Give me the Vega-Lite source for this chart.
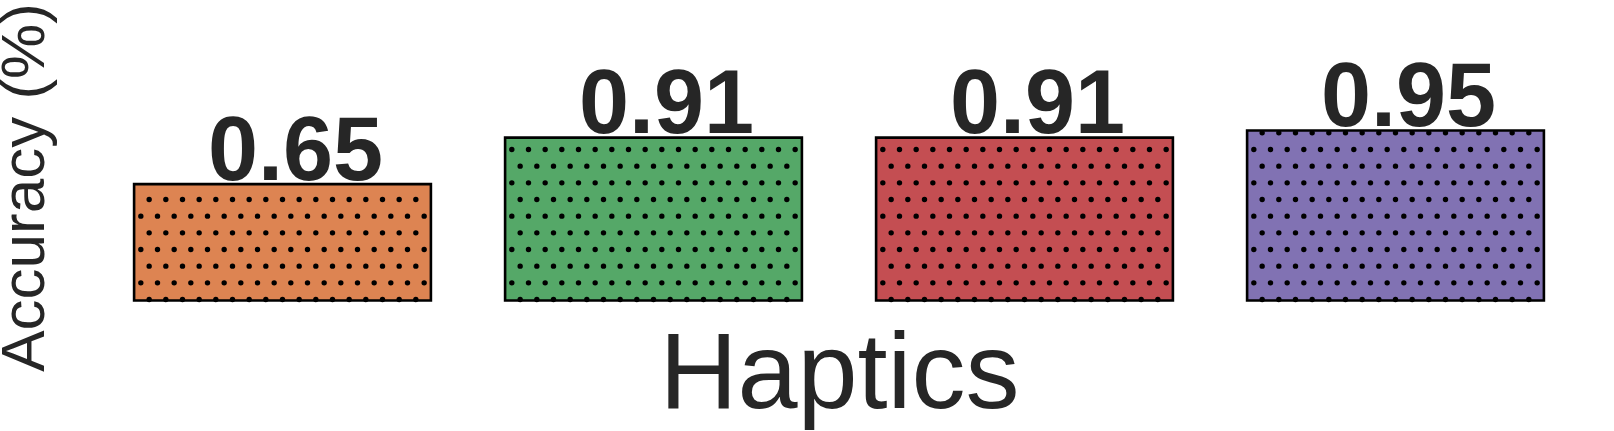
{
  "$schema": "https://vega.github.io/schema/vega-lite/v6.json",
  "autosize": {"type": "none"},
  "padding": {"left": 97, "top": 73.5, "right": 33, "bottom": 130.5},
  "width": 1484,
  "height": 227,
  "background": "white",
  "config": {"view": {"stroke": null}},
  "data": {"values": [
    {"cond": "Condition 1", "value": 0.65},
    {"cond": "Condition 2", "value": 0.91},
    {"cond": "Condition 3", "value": 0.91},
    {"cond": "Condition 4", "value": 0.95}
  ]},
  "encoding": {
    "x": {"field": "cond", "type": "nominal", "sort": null,
      "scale": {"paddingInner": 0.2, "paddingOuter": 0.1},
      "axis": {"title": "Haptics", "labels": false, "ticks": false, "domain": false, "grid": false,
        "titleFont": "Liberation Sans", "titleFontSize": 108, "titleFontWeight": "normal",
        "titleColor": "#262626", "titleBaseline": "alphabetic", "titlePadding": 107}},
    "y": {"field": "value", "type": "quantitative",
      "scale": {"domain": [0, 1.268], "nice": false, "zero": true},
      "axis": {"title": "Accuracy (%)", "labels": false, "ticks": false, "domain": false, "grid": false,
        "titleFont": "Liberation Sans", "titleFontSize": 62, "titleFontWeight": "normal",
        "titleColor": "#262626", "titleBaseline": "alphabetic", "titlePadding": 54}}
  },
  "layer": [
    {"mark": {"type": "bar", "strokeWidth": 0},
     "encoding": {"color": {"field": "cond", "type": "nominal", "legend": null,
       "scale": {"range": ["#DD8452", "#55A868", "#C44E52", "#8172B3"]}}}},
    {"mark": {"type": "rule", "xOffset": -141.667, "strokeWidth": 5.4, "strokeCap": "round", "strokeDash": [0, 33.333], "strokeDashOffset": 15.67, "color": "black"}, "encoding": {"y": {"datum": 0, "type": "quantitative"}, "y2": {"field": "value"}}},
    {"mark": {"type": "rule", "xOffset": -133.333, "strokeWidth": 5.4, "strokeCap": "round", "strokeDash": [0, 33.333], "strokeDashOffset": 32.33, "color": "black"}, "encoding": {"y": {"datum": 0, "type": "quantitative"}, "y2": {"field": "value"}}},
    {"mark": {"type": "rule", "xOffset": -125, "strokeWidth": 5.4, "strokeCap": "round", "strokeDash": [0, 33.333], "strokeDashOffset": 15.67, "color": "black"}, "encoding": {"y": {"datum": 0, "type": "quantitative"}, "y2": {"field": "value"}}},
    {"mark": {"type": "rule", "xOffset": -116.667, "strokeWidth": 5.4, "strokeCap": "round", "strokeDash": [0, 33.333], "strokeDashOffset": 32.33, "color": "black"}, "encoding": {"y": {"datum": 0, "type": "quantitative"}, "y2": {"field": "value"}}},
    {"mark": {"type": "rule", "xOffset": -108.333, "strokeWidth": 5.4, "strokeCap": "round", "strokeDash": [0, 33.333], "strokeDashOffset": 15.67, "color": "black"}, "encoding": {"y": {"datum": 0, "type": "quantitative"}, "y2": {"field": "value"}}},
    {"mark": {"type": "rule", "xOffset": -100, "strokeWidth": 5.4, "strokeCap": "round", "strokeDash": [0, 33.333], "strokeDashOffset": 32.33, "color": "black"}, "encoding": {"y": {"datum": 0, "type": "quantitative"}, "y2": {"field": "value"}}},
    {"mark": {"type": "rule", "xOffset": -91.667, "strokeWidth": 5.4, "strokeCap": "round", "strokeDash": [0, 33.333], "strokeDashOffset": 15.67, "color": "black"}, "encoding": {"y": {"datum": 0, "type": "quantitative"}, "y2": {"field": "value"}}},
    {"mark": {"type": "rule", "xOffset": -83.333, "strokeWidth": 5.4, "strokeCap": "round", "strokeDash": [0, 33.333], "strokeDashOffset": 32.33, "color": "black"}, "encoding": {"y": {"datum": 0, "type": "quantitative"}, "y2": {"field": "value"}}},
    {"mark": {"type": "rule", "xOffset": -75, "strokeWidth": 5.4, "strokeCap": "round", "strokeDash": [0, 33.333], "strokeDashOffset": 15.67, "color": "black"}, "encoding": {"y": {"datum": 0, "type": "quantitative"}, "y2": {"field": "value"}}},
    {"mark": {"type": "rule", "xOffset": -66.667, "strokeWidth": 5.4, "strokeCap": "round", "strokeDash": [0, 33.333], "strokeDashOffset": 32.33, "color": "black"}, "encoding": {"y": {"datum": 0, "type": "quantitative"}, "y2": {"field": "value"}}},
    {"mark": {"type": "rule", "xOffset": -58.333, "strokeWidth": 5.4, "strokeCap": "round", "strokeDash": [0, 33.333], "strokeDashOffset": 15.67, "color": "black"}, "encoding": {"y": {"datum": 0, "type": "quantitative"}, "y2": {"field": "value"}}},
    {"mark": {"type": "rule", "xOffset": -50, "strokeWidth": 5.4, "strokeCap": "round", "strokeDash": [0, 33.333], "strokeDashOffset": 32.33, "color": "black"}, "encoding": {"y": {"datum": 0, "type": "quantitative"}, "y2": {"field": "value"}}},
    {"mark": {"type": "rule", "xOffset": -41.667, "strokeWidth": 5.4, "strokeCap": "round", "strokeDash": [0, 33.333], "strokeDashOffset": 15.67, "color": "black"}, "encoding": {"y": {"datum": 0, "type": "quantitative"}, "y2": {"field": "value"}}},
    {"mark": {"type": "rule", "xOffset": -33.333, "strokeWidth": 5.4, "strokeCap": "round", "strokeDash": [0, 33.333], "strokeDashOffset": 32.33, "color": "black"}, "encoding": {"y": {"datum": 0, "type": "quantitative"}, "y2": {"field": "value"}}},
    {"mark": {"type": "rule", "xOffset": -25, "strokeWidth": 5.4, "strokeCap": "round", "strokeDash": [0, 33.333], "strokeDashOffset": 15.67, "color": "black"}, "encoding": {"y": {"datum": 0, "type": "quantitative"}, "y2": {"field": "value"}}},
    {"mark": {"type": "rule", "xOffset": -16.667, "strokeWidth": 5.4, "strokeCap": "round", "strokeDash": [0, 33.333], "strokeDashOffset": 32.33, "color": "black"}, "encoding": {"y": {"datum": 0, "type": "quantitative"}, "y2": {"field": "value"}}},
    {"mark": {"type": "rule", "xOffset": -8.333, "strokeWidth": 5.4, "strokeCap": "round", "strokeDash": [0, 33.333], "strokeDashOffset": 15.67, "color": "black"}, "encoding": {"y": {"datum": 0, "type": "quantitative"}, "y2": {"field": "value"}}},
    {"mark": {"type": "rule", "xOffset": 0, "strokeWidth": 5.4, "strokeCap": "round", "strokeDash": [0, 33.333], "strokeDashOffset": 32.33, "color": "black"}, "encoding": {"y": {"datum": 0, "type": "quantitative"}, "y2": {"field": "value"}}},
    {"mark": {"type": "rule", "xOffset": 8.333, "strokeWidth": 5.4, "strokeCap": "round", "strokeDash": [0, 33.333], "strokeDashOffset": 15.67, "color": "black"}, "encoding": {"y": {"datum": 0, "type": "quantitative"}, "y2": {"field": "value"}}},
    {"mark": {"type": "rule", "xOffset": 16.667, "strokeWidth": 5.4, "strokeCap": "round", "strokeDash": [0, 33.333], "strokeDashOffset": 32.33, "color": "black"}, "encoding": {"y": {"datum": 0, "type": "quantitative"}, "y2": {"field": "value"}}},
    {"mark": {"type": "rule", "xOffset": 25, "strokeWidth": 5.4, "strokeCap": "round", "strokeDash": [0, 33.333], "strokeDashOffset": 15.67, "color": "black"}, "encoding": {"y": {"datum": 0, "type": "quantitative"}, "y2": {"field": "value"}}},
    {"mark": {"type": "rule", "xOffset": 33.333, "strokeWidth": 5.4, "strokeCap": "round", "strokeDash": [0, 33.333], "strokeDashOffset": 32.33, "color": "black"}, "encoding": {"y": {"datum": 0, "type": "quantitative"}, "y2": {"field": "value"}}},
    {"mark": {"type": "rule", "xOffset": 41.667, "strokeWidth": 5.4, "strokeCap": "round", "strokeDash": [0, 33.333], "strokeDashOffset": 15.67, "color": "black"}, "encoding": {"y": {"datum": 0, "type": "quantitative"}, "y2": {"field": "value"}}},
    {"mark": {"type": "rule", "xOffset": 50, "strokeWidth": 5.4, "strokeCap": "round", "strokeDash": [0, 33.333], "strokeDashOffset": 32.33, "color": "black"}, "encoding": {"y": {"datum": 0, "type": "quantitative"}, "y2": {"field": "value"}}},
    {"mark": {"type": "rule", "xOffset": 58.333, "strokeWidth": 5.4, "strokeCap": "round", "strokeDash": [0, 33.333], "strokeDashOffset": 15.67, "color": "black"}, "encoding": {"y": {"datum": 0, "type": "quantitative"}, "y2": {"field": "value"}}},
    {"mark": {"type": "rule", "xOffset": 66.667, "strokeWidth": 5.4, "strokeCap": "round", "strokeDash": [0, 33.333], "strokeDashOffset": 32.33, "color": "black"}, "encoding": {"y": {"datum": 0, "type": "quantitative"}, "y2": {"field": "value"}}},
    {"mark": {"type": "rule", "xOffset": 75, "strokeWidth": 5.4, "strokeCap": "round", "strokeDash": [0, 33.333], "strokeDashOffset": 15.67, "color": "black"}, "encoding": {"y": {"datum": 0, "type": "quantitative"}, "y2": {"field": "value"}}},
    {"mark": {"type": "rule", "xOffset": 83.333, "strokeWidth": 5.4, "strokeCap": "round", "strokeDash": [0, 33.333], "strokeDashOffset": 32.33, "color": "black"}, "encoding": {"y": {"datum": 0, "type": "quantitative"}, "y2": {"field": "value"}}},
    {"mark": {"type": "rule", "xOffset": 91.667, "strokeWidth": 5.4, "strokeCap": "round", "strokeDash": [0, 33.333], "strokeDashOffset": 15.67, "color": "black"}, "encoding": {"y": {"datum": 0, "type": "quantitative"}, "y2": {"field": "value"}}},
    {"mark": {"type": "rule", "xOffset": 100, "strokeWidth": 5.4, "strokeCap": "round", "strokeDash": [0, 33.333], "strokeDashOffset": 32.33, "color": "black"}, "encoding": {"y": {"datum": 0, "type": "quantitative"}, "y2": {"field": "value"}}},
    {"mark": {"type": "rule", "xOffset": 108.333, "strokeWidth": 5.4, "strokeCap": "round", "strokeDash": [0, 33.333], "strokeDashOffset": 15.67, "color": "black"}, "encoding": {"y": {"datum": 0, "type": "quantitative"}, "y2": {"field": "value"}}},
    {"mark": {"type": "rule", "xOffset": 116.667, "strokeWidth": 5.4, "strokeCap": "round", "strokeDash": [0, 33.333], "strokeDashOffset": 32.33, "color": "black"}, "encoding": {"y": {"datum": 0, "type": "quantitative"}, "y2": {"field": "value"}}},
    {"mark": {"type": "rule", "xOffset": 125, "strokeWidth": 5.4, "strokeCap": "round", "strokeDash": [0, 33.333], "strokeDashOffset": 15.67, "color": "black"}, "encoding": {"y": {"datum": 0, "type": "quantitative"}, "y2": {"field": "value"}}},
    {"mark": {"type": "rule", "xOffset": 133.333, "strokeWidth": 5.4, "strokeCap": "round", "strokeDash": [0, 33.333], "strokeDashOffset": 32.33, "color": "black"}, "encoding": {"y": {"datum": 0, "type": "quantitative"}, "y2": {"field": "value"}}},
    {"mark": {"type": "rule", "xOffset": 141.667, "strokeWidth": 5.4, "strokeCap": "round", "strokeDash": [0, 33.333], "strokeDashOffset": 15.67, "color": "black"}, "encoding": {"y": {"datum": 0, "type": "quantitative"}, "y2": {"field": "value"}}},
    {"mark": {"type": "bar", "fill": "transparent", "stroke": "#000000", "strokeWidth": 2.6}},
    {"mark": {"type": "text", "font": "Liberation Sans", "fontWeight": "bold", "fontSize": 90,
       "baseline": "alphabetic", "align": "center", "dx": 13, "dy": -4.5, "color": "#262626"},
     "encoding": {"text": {"field": "value", "type": "quantitative", "format": ".2f"}}}
  ]
}
